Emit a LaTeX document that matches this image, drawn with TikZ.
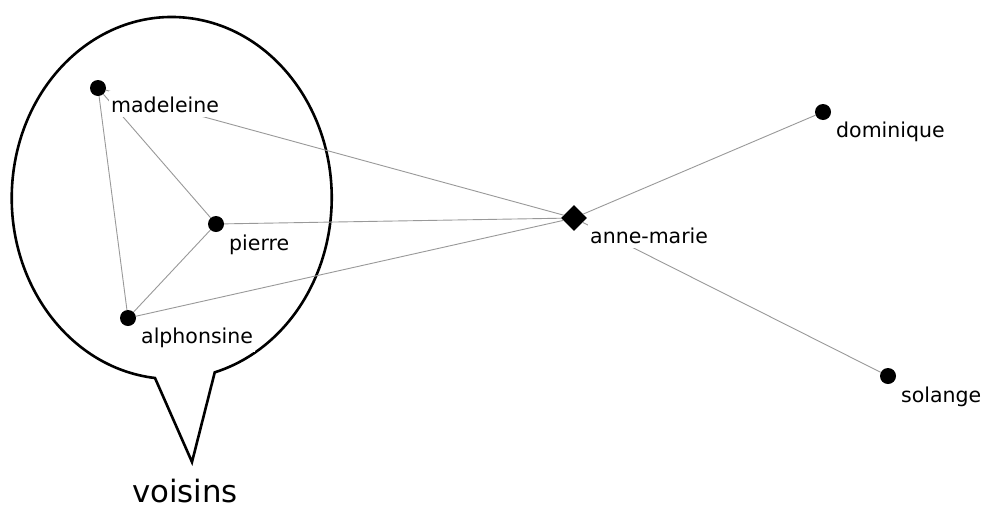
\documentclass[tikz,border=0pt]{standalone}
\usepackage{fontspec}
\setmainfont{DejaVu Sans}
\usetikzlibrary{shapes.geometric}
\begin{document}
\begin{tikzpicture}[x=1pt,y=1pt,
  dot/.style={circle,fill=black,inner sep=0pt,minimum size=16pt},
  diam/.style={diamond,fill=black,inner sep=0pt,minimum size=26pt},
  lbl/.style={anchor=base west,fill=white,inner xsep=2pt,inner ysep=5pt,font=\fontsize{20.5}{22}\selectfont},
  edge/.style={draw=black!40,line width=0.9pt},
  bubble/.style={draw=black,line width=2.6pt,line join=miter}]
\useasboundingbox[fill=white] (0,0) rectangle (984,-509);
% bubble
\draw[bubble] (155,-378) arc[start angle=264,end angle=-74.4,x radius=160,y radius=181] -- (192,-462) -- cycle;
% nodes
\node[dot] (mad) at (98,-88) {};
\node[dot] (pie) at (216,-224) {};
\node[dot] (alp) at (128,-318) {};
\node[diam] (ann) at (574,-218) {};
\node[dot] (dom) at (823,-112) {};
\node[dot] (sol) at (888,-376) {};
% edges
\draw[edge] (mad) -- (alp);
\draw[edge] (mad) -- (pie);
\draw[edge] (pie) -- (alp);
\draw[edge] (mad) -- (ann);
\draw[edge] (pie) -- (ann);
\draw[edge] (alp) -- (ann);
\draw[edge] (ann) -- (dom);
\draw[edge] (ann) -- (sol);
% labels
\node[lbl] (madL) at (109,-112) {madeleine};
\node[lbl] (pieL) at (227,-250) {pierre};
\node[lbl] (alpL) at (139,-343) {alphonsine};
\node[lbl] (annL) at (588,-243) {anne-marie};
\node[lbl] (domL) at (834,-137) {dominique};
\node[lbl] (solL) at (899,-402) {solange};
\node[anchor=base west,inner sep=0pt,font=\fontsize{30.8}{32}\selectfont] (vois) at (132,-502) {voisins};
\end{tikzpicture}
\end{document}
